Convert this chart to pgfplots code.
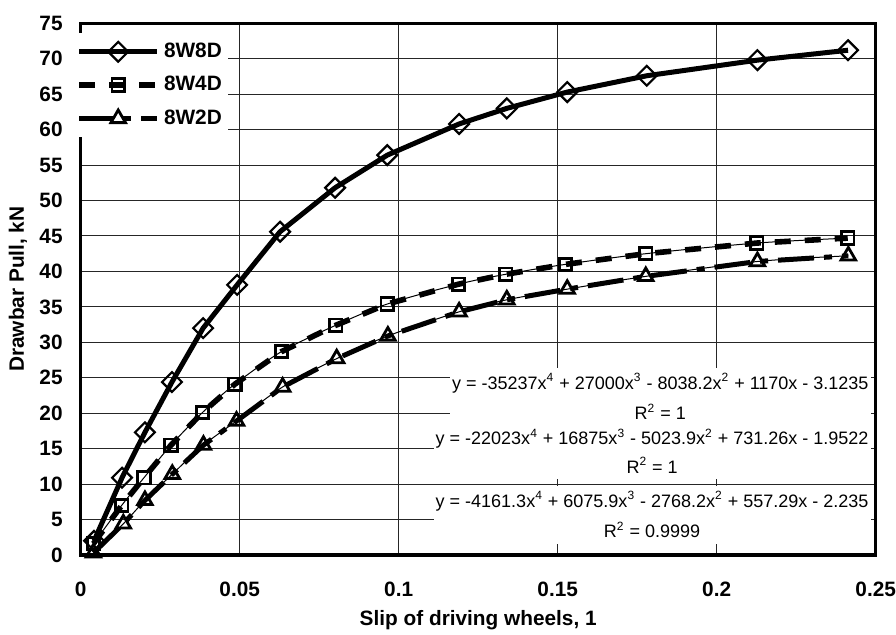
\documentclass[border=0pt]{standalone}
\usepackage{fontspec}
\setmainfont{Liberation Sans}
\usepackage{pgfplots}
\usepackage{pgfplotstable}
\pgfplotsset{compat=1.18}

\pgfplotstableread{
x y
0.0042 2.0
0.0130 10.9
0.0202 17.3
0.0287 24.4
0.0385 32.0
0.0492 38.1
0.0627 45.6
0.0800 51.8
0.0964 56.4
0.1190 60.8
0.1340 63.0
0.1530 65.3
0.1780 67.6
0.2128 69.8
0.2413 71.2
}\dataA

\pgfplotstableread{
x y
0.0040 1.6
0.0129 7.0
0.0199 10.9
0.0284 15.5
0.0383 20.1
0.0485 24.1
0.0632 28.7
0.0802 32.4
0.0964 35.4
0.1188 38.2
0.1337 39.6
0.1525 41.0
0.1777 42.5
0.2126 44.0
0.2412 44.7
}\dataB

\pgfplotstableread{
x y
0.0040 0.3
0.0134 4.4
0.0202 7.7
0.0288 11.4
0.0386 15.5
0.0490 18.9
0.0635 23.7
0.0805 27.7
0.0966 30.9
0.1190 34.3
0.1340 36.0
0.1530 37.5
0.1777 39.3
0.2128 41.4
0.2414 42.2
}\dataC

\begin{document}
\begin{tikzpicture}
\path[use as bounding box] (-40.35pt,-40pt) rectangle (407.65pt,277.5pt);
\begin{axis}[
  at={(0,0)}, anchor=south west,
  width=397.5pt, height=265.85pt, scale only axis,
  xmin=0, xmax=0.25, ymin=0, ymax=75,
  clip=false,
  xtick={0,0.05,0.1,0.15,0.2,0.25},
  xticklabels={0,0.05,0.1,0.15,0.2,0.25},
  ytick={0,5,...,75},
  scaled ticks=false,
  grid=major,
  major grid style={line width=0.5pt, black!85},
  axis line style={line width=1.6pt},
  major tick length=0pt,
  tick style={draw=none},
  /pgf/number format/assume math mode=true,
  ticklabel style={font=\fontsize{10.4}{12}\selectfont\bfseries, inner sep=0pt},
  xticklabel style={anchor=base, yshift=-21pt},
  yticklabel style={anchor=east, xshift=-8.85pt},
  xlabel={Slip of driving wheels, 1},
  ylabel={Drawbar Pull, kN},
  every axis x label/.style={at={(axis description cs:0.5,-0.1317)}, anchor=base, font=\fontsize{10.4}{12}\selectfont\bfseries},
  every axis y label/.style={at={(axis description cs:-0.0789,0.5)}, rotate=90, anchor=center, font=\fontsize{10.4}{12}\selectfont\bfseries},
  legend style={at={(axis description cs:-0.0084,0.9825)}, anchor=north west, draw=none, fill=white,
    font=\fontsize{10.4}{12}\selectfont\bfseries, inner xsep=1pt, inner ysep=3pt, row sep=3.9pt},
  legend cell align=left,
  legend image code/.code={\path[draw=none,fill=none] (0pt,-5.5pt) rectangle (39pt,5.5pt);
    \draw[mark repeat=2,mark phase=2,#1] plot coordinates {(0pt,0pt) (19.5pt,0pt) (39pt,0pt)};},
]
% trendlines (thin)
\addplot[line width=0.5pt, smooth, forget plot] table {\dataA};
\addplot[line width=0.5pt, smooth, forget plot] table {\dataB};
\addplot[line width=0.5pt, smooth, forget plot] table {\dataC};
% markers
\addplot[only marks, mark=square, mark size=3.5pt, mark options={rotate=45, fill=white, line width=1.1pt}, forget plot] table {\dataA};
\addplot[only marks, mark=square, mark size=3.1pt, mark options={fill=white, line width=1.4pt}, forget plot] table {\dataB};
\addplot[only marks, mark=triangle, mark size=4.2pt, mark options={fill=white, line width=1.4pt}, forget plot] table {\dataC};
% series lines (thick)
\addplot[line width=2.5pt, forget plot] table {\dataA};
\addplot[line width=2.8pt, dash pattern=on 8pt off 7pt, forget plot] table {\dataB};
\addplot[line width=2.5pt, dash pattern=on 18pt off 5pt on 4pt off 5pt, forget plot] table {\dataC};

\addlegendimage{line width=2.5pt, mark=square, mark options={solid, rotate=45, fill=white, line width=1.1pt, mark size=3.5pt}}
\addlegendentry{8W8D}
\addlegendimage{line width=2.8pt, dash pattern=on 8pt off 7pt, mark=square, mark options={solid, fill=white, line width=1.4pt, mark size=3.1pt}}
\addlegendentry{8W4D}
\addlegendimage{line width=2.5pt, dash pattern=on 17pt off 5pt on 4pt off 5pt, mark=triangle, mark options={solid, fill=white, line width=1.4pt, mark size=4.2pt}}
\addlegendentry{8W2D}

\node[anchor=north east, fill=white, align=center, inner xsep=1pt, inner ysep=3pt, font=\fontsize{9}{15.2}\selectfont] at (axis cs:0.2485,26.5)
  {y = -35237x\textsuperscript{4} + 27000x\textsuperscript{3} - 8038.2x\textsuperscript{2} + 1170x - 3.1235\\R\textsuperscript{2} = 1};
\node[anchor=north east, fill=white, align=center, inner xsep=1pt, inner ysep=3pt, font=\fontsize{9}{14.2}\selectfont] at (axis cs:0.2485,18.7)
  {y = -22023x\textsuperscript{4} + 16875x\textsuperscript{3} - 5023.9x\textsuperscript{2} + 731.26x - 1.9522\\R\textsuperscript{2} = 1};
\node[anchor=north east, fill=white, align=center, inner xsep=1pt, inner ysep=3pt, font=\fontsize{9}{15.2}\selectfont] at (axis cs:0.2485,9.85)
  {y = -4161.3x\textsuperscript{4} + 6075.9x\textsuperscript{3} - 2768.2x\textsuperscript{2} + 557.29x - 2.235\\R\textsuperscript{2} = 0.9999};
\end{axis}
\end{tikzpicture}
\end{document}
